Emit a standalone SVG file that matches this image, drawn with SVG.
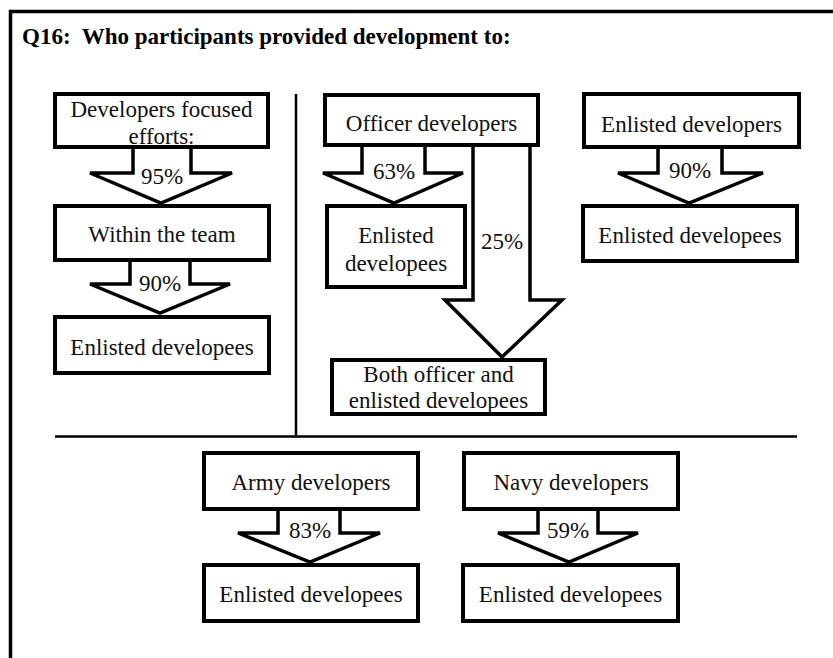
<svg xmlns="http://www.w3.org/2000/svg" width="833" height="658" viewBox="0 0 833 658">
<style>
.box{fill:#fff;stroke:#000;stroke-width:4}
.arr{fill:#fff;stroke:#000;stroke-width:3.5;stroke-linejoin:miter}
.t{font-family:"Liberation Serif","Times New Roman",serif;font-size:23px;fill:#111;text-anchor:middle}
.title{font-family:"Liberation Serif","Times New Roman",serif;font-size:23px;font-weight:bold;fill:#000}
.sep{stroke:#000;stroke-width:2.5;fill:none}
</style>
<rect x="0" y="0" width="833" height="658" fill="#fff"/>
<path d="M10.5,658 V11.5 H833" fill="none" stroke="#000" stroke-width="3.5"/>
<text class="title" x="22" y="44" xml:space="preserve">Q16:  Who participants provided development to:</text>
<g id="separators">
<line class="sep" x1="296" y1="94" x2="296" y2="436.5"/>
<line class="sep" x1="55" y1="436.5" x2="797" y2="436.5"/>
</g>
<g id="connectors">
<polygon class="arr" points="133,147 133,173 90,173 161,203 232,173 191,173 191,147"/>
<polygon class="arr" points="130,260 130,284 90,284 160,313 230,284 190,284 190,260"/>
<polygon class="arr" points="362,145 362,173 323,173 394,203 463,173 425,173 425,145"/>
<polygon class="arr" points="473,145 473,300 445,300 502,357 562,300 530,300 530,145"/>
<polygon class="arr" points="658,147 658,173 618,173 689,203 763,173 722,173 722,147"/>
<polygon class="arr" points="278,509 278,533 238,533 310,562 380,533 340,533 340,509"/>
<polygon class="arr" points="538,509 538,533 498,533 569,562 638,533 598,533 598,509"/>
<text class="t" x="162" y="184">95%</text>
<text class="t" x="160" y="291">90%</text>
<text class="t" x="394" y="179">63%</text>
<text class="t" x="502" y="249">25%</text>
<text class="t" x="690" y="178">90%</text>
<text class="t" x="310" y="538">83%</text>
<text class="t" x="568" y="538">59%</text>
</g>
<g id="n-dev-focused">
<rect class="box" x="55" y="94" width="213" height="53"/>
<text class="t" x="161.5" y="117">Developers focused</text>
<text class="t" x="161.5" y="144">efforts:</text>
</g>
<g id="n-within-team">
<rect class="box" x="55" y="206" width="214" height="54"/>
<text class="t" x="162" y="242">Within the team</text>
</g>
<g id="n-enlisted-1">
<rect class="box" x="55" y="317" width="214" height="56"/>
<text class="t" x="162" y="355">Enlisted developees</text>
</g>
<g id="n-officer-dev">
<rect class="box" x="325" y="95" width="213" height="50"/>
<text class="t" x="431.5" y="131">Officer developers</text>
</g>
<g id="n-enlisted-2">
<rect class="box" x="327" y="206" width="138" height="81"/>
<text class="t" x="396" y="243">Enlisted</text>
<text class="t" x="396" y="271">developees</text>
</g>
<g id="n-both">
<rect class="box" x="332" y="360" width="213" height="54"/>
<text class="t" x="438.5" y="382">Both officer and</text>
<text class="t" x="438.5" y="408">enlisted developees</text>
</g>
<g id="n-enlisted-dev">
<rect class="box" x="584" y="94" width="215" height="53"/>
<text class="t" x="691.5" y="132">Enlisted developers</text>
</g>
<g id="n-enlisted-3">
<rect class="box" x="583" y="206" width="214" height="55"/>
<text class="t" x="690" y="243">Enlisted developees</text>
</g>
<g id="n-army-dev">
<rect class="box" x="204" y="453" width="214" height="56"/>
<text class="t" x="311" y="490">Army developers</text>
</g>
<g id="n-enlisted-4">
<rect class="box" x="204" y="565" width="214" height="56"/>
<text class="t" x="311" y="602">Enlisted developees</text>
</g>
<g id="n-navy-dev">
<rect class="box" x="464" y="453" width="214" height="56"/>
<text class="t" x="571" y="490">Navy developers</text>
</g>
<g id="n-enlisted-5">
<rect class="box" x="463" y="565" width="215" height="56"/>
<text class="t" x="570.5" y="602">Enlisted developees</text>
</g>
</svg>
